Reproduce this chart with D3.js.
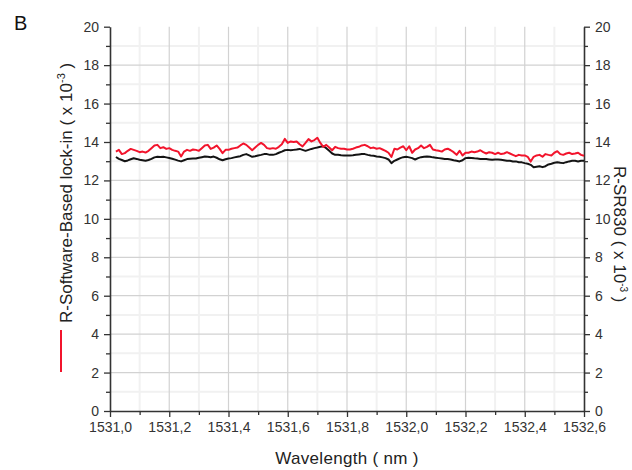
<!DOCTYPE html>
<html>
<head>
<meta charset="utf-8">
<script src="https://cdn.jsdelivr.net/npm/d3@7"></script>
<style>
  html, body { margin: 0; padding: 0; background: #fff; }
  svg { display: block; font-family: "Liberation Sans", Arial, sans-serif; }
</style>
</head>
<body>
<svg id="chart" width="632" height="470"></svg>
<script>
// Wavelength sampling: 1531.02 nm to 1532.60 nm in 0.01 nm steps
const wlStart = 1531.02;
const wlStep = 0.01;

// R measured with the software-based lock-in (x 10^-3)
const softwareLockIn = [
  13.50, 13.59, 13.37, 13.42, 13.54, 13.64, 13.59, 13.54, 13.47, 13.50,
  13.45, 13.54, 13.68, 13.82, 13.85, 13.68, 13.73, 13.64, 13.68, 13.59,
  13.54, 13.50, 13.25, 13.50, 13.59, 13.54, 13.61, 13.59, 13.54, 13.68,
  13.82, 13.85, 13.64, 13.71, 13.82, 13.64, 13.42, 13.59, 13.59, 13.65,
  13.68, 13.71, 13.82, 13.92, 13.85, 13.71, 13.57, 13.71, 13.85, 13.95,
  13.85, 13.68, 13.65, 13.68, 13.65, 13.75, 13.88, 14.16, 13.95, 14.03,
  14.00, 14.03, 13.88, 13.77, 13.95, 14.15, 14.03, 14.10, 14.22, 13.95,
  13.75, 13.85, 13.71, 13.57, 13.75, 13.68, 13.65, 13.65, 13.61, 13.61,
  13.65, 13.71, 13.75, 13.82, 13.85, 13.78, 13.68, 13.71, 13.65, 13.68,
  13.61, 13.54, 13.44, 13.22, 13.65, 13.61, 13.71, 13.78, 13.57, 13.78,
  13.44, 13.61, 13.68, 13.82, 13.68, 13.75, 13.85, 13.61, 13.57, 13.54,
  13.50, 13.61, 13.65, 13.57, 13.47, 13.33, 13.54, 13.30, 13.44, 13.44,
  13.50, 13.47, 13.50, 13.57, 13.47, 13.40, 13.47, 13.44, 13.37, 13.44,
  13.37, 13.40, 13.47, 13.40, 13.33, 13.26, 13.33, 13.30, 13.30, 13.23,
  12.98, 13.23, 13.30, 13.33, 13.23, 13.37, 13.33, 13.30, 13.44, 13.52,
  13.37, 13.33, 13.40, 13.44, 13.37, 13.40, 13.44, 13.33, 13.28
];

// R measured with the SR830 lock-in amplifier (x 10^-3)
const sr830 = [
  13.22, 13.12, 13.06, 13.00, 13.04, 13.10, 13.15, 13.12, 13.08, 13.05,
  13.02, 13.06, 13.12, 13.20, 13.23, 13.22, 13.23, 13.20, 13.17, 13.13,
  13.08, 13.03, 12.99, 13.05, 13.11, 13.13, 13.14, 13.14, 13.18, 13.21,
  13.24, 13.23, 13.21, 13.24, 13.18, 13.10, 13.05, 13.10, 13.14, 13.16,
  13.20, 13.23, 13.26, 13.33, 13.37, 13.30, 13.23, 13.26, 13.30, 13.33,
  13.37, 13.37, 13.33, 13.33, 13.37, 13.44, 13.50, 13.57, 13.59, 13.57,
  13.59, 13.61, 13.64, 13.59, 13.54, 13.59, 13.64, 13.68, 13.71, 13.75,
  13.78, 13.68, 13.54, 13.40, 13.33, 13.33, 13.31, 13.30, 13.30, 13.30,
  13.31, 13.33, 13.35, 13.37, 13.37, 13.33, 13.30, 13.28, 13.25, 13.23,
  13.20, 13.16, 13.09, 12.90, 13.02, 13.09, 13.16, 13.21, 13.23, 13.20,
  13.16, 13.09, 13.16, 13.21, 13.23, 13.25, 13.23, 13.20, 13.18, 13.16,
  13.14, 13.12, 13.11, 13.09, 13.05, 13.02, 12.99, 13.05, 13.16, 13.18,
  13.17, 13.15, 13.14, 13.12, 13.12, 13.11, 13.09, 13.07, 13.09, 13.09,
  13.07, 13.05, 13.02, 13.02, 12.99, 12.99, 12.95, 12.94, 12.90, 12.87,
  12.81, 12.68, 12.71, 12.74, 12.69, 12.74, 12.83, 12.87, 12.92, 12.95,
  12.92, 12.90, 12.95, 12.99, 13.02, 13.02, 12.99, 13.02, 13.02
];

const xTickValues = [1531.0, 1531.2, 1531.4, 1531.6, 1531.8, 1532.0, 1532.2, 1532.4, 1532.6];
const yTickValues = [0, 2, 4, 6, 8, 10, 12, 14, 16, 18, 20];
const panelLabel = "B";
const xTitle = "Wavelength ( nm )";
const leftTitle = "R-Software-Based lock-in ( x 10";
const rightTitle = "R-SR830 ( x 10";
const exponent = "-3";

const svg = d3.select("#chart");
const plot = { left: 110, right: 584, top: 26.7, bottom: 411 };

const x = d3.scaleLinear().domain([1531.0, 1532.6]).range([plot.left, plot.right]);
const y = d3.scaleLinear().domain([0, 20]).range([plot.bottom, plot.top]);

const fmt = d => d3.format(".1f")(d).replace(".", ",");

// Minor grid (faint) at half steps
const minorX = d3.range(1531.1, 1532.6, 0.2);
const minorY = d3.range(1, 20, 2);
const grid = svg.append("g");
grid.selectAll("line.mx").data(minorX).join("line")
  .attr("x1", d => x(d)).attr("x2", d => x(d))
  .attr("y1", y(0)).attr("y2", y(20))
  .attr("stroke", "#f1f1f1").attr("stroke-width", 2);
grid.selectAll("line.my").data(minorY).join("line")
  .attr("x1", plot.left).attr("x2", plot.right)
  .attr("y1", d => y(d)).attr("y2", d => y(d))
  .attr("stroke", "#f1f1f1").attr("stroke-width", 2);

// Major grid
grid.selectAll("line.gx").data(xTickValues.slice(1, -1)).join("line")
  .attr("x1", d => x(d)).attr("x2", d => x(d))
  .attr("y1", y(0)).attr("y2", y(20))
  .attr("stroke", "#d2d2d2").attr("stroke-width", 1.2);
grid.selectAll("line.gy").data(yTickValues.slice(1, -1)).join("line")
  .attr("x1", plot.left).attr("x2", plot.right)
  .attr("y1", d => y(d)).attr("y2", d => y(d))
  .attr("stroke", "#d2d2d2").attr("stroke-width", 1.2);

// Axes
const axisColor = "#333";
function styleAxis(g) {
  g.select(".domain").attr("stroke", axisColor).attr("stroke-width", 1.6);
  g.selectAll(".tick line").attr("stroke", axisColor).attr("stroke-width", 1.3);
  g.selectAll(".tick text").attr("fill", "#333").attr("font-size", "14px")
    .attr("font-family", "'Liberation Sans', Arial, sans-serif");
}

// Minor ticks
const xMinor = d3.range(1531.1, 1532.6, 0.2);
const yMinor = d3.range(1, 20, 2);

svg.append("g").attr("transform", `translate(0,${plot.bottom})`)
  .call(d3.axisBottom(x).tickValues(xMinor).tickSize(4).tickFormat(""))
  .call(g => { g.select(".domain").remove(); g.selectAll("line").attr("stroke", axisColor).attr("stroke-width", 1.3); });
svg.append("g").attr("transform", `translate(${plot.left},0)`)
  .call(d3.axisLeft(y).tickValues(yMinor).tickSize(4).tickFormat(""))
  .call(g => { g.select(".domain").remove(); g.selectAll("line").attr("stroke", axisColor).attr("stroke-width", 1.3); });
svg.append("g").attr("transform", `translate(${plot.right},0)`)
  .call(d3.axisRight(y).tickValues(yMinor).tickSize(4).tickFormat(""))
  .call(g => { g.select(".domain").remove(); g.selectAll("line").attr("stroke", axisColor).attr("stroke-width", 1.3); });

svg.append("g").attr("transform", `translate(0,${plot.bottom})`)
  .call(d3.axisBottom(x).tickValues(xTickValues).tickSize(6).tickSizeOuter(0).tickPadding(5).tickFormat(fmt))
  .call(styleAxis);
svg.append("g").attr("transform", `translate(${plot.left},0)`)
  .call(d3.axisLeft(y).tickValues(yTickValues).tickSize(6).tickSizeOuter(0).tickPadding(5).tickFormat(d3.format("d")))
  .call(styleAxis);
svg.append("g").attr("transform", `translate(${plot.right},0)`)
  .call(d3.axisRight(y).tickValues(yTickValues).tickSize(6).tickSizeOuter(0).tickPadding(5).tickFormat(d3.format("d")))
  .call(styleAxis);

// Data lines
const wl = i => wlStart + i * wlStep;
const line = d3.line().x((d, i) => x(wl(i))).y(d => y(d));

svg.append("path").datum(sr830)
  .attr("fill", "none").attr("stroke", "#141414").attr("stroke-width", 2)
  .attr("stroke-linejoin", "round").attr("d", line);
svg.append("path").datum(softwareLockIn)
  .attr("fill", "none").attr("stroke", "#f2142c").attr("stroke-width", 2)
  .attr("stroke-linejoin", "round").attr("d", line);

// Panel label
svg.append("text").attr("x", 14).attr("y", 29.5)
  .attr("font-size", "20px").attr("fill", "#111").text(panelLabel);

// X title
svg.append("text").attr("x", 347).attr("y", 464)
  .attr("text-anchor", "middle").attr("font-size", "17px")
  .attr("letter-spacing", "0.3px").attr("fill", "#222").text(xTitle);

// Left title with legend swatch
const lt = svg.append("text")
  .attr("transform", "translate(72,323) rotate(-90)")
  .attr("font-size", "17px").attr("fill", "#222");
lt.append("tspan").text(leftTitle);
lt.append("tspan").attr("dy", -7).attr("font-size", "11px").text(exponent);
lt.append("tspan").attr("dy", 7).text(" )");

svg.append("line").attr("x1", 61).attr("x2", 61).attr("y1", 330).attr("y2", 372)
  .attr("stroke", "#f2142c").attr("stroke-width", 2);

// Right title
const rt = svg.append("text")
  .attr("transform", "translate(614,166) rotate(90)")
  .attr("font-size", "17px").attr("fill", "#222");
rt.append("tspan").text(rightTitle);
rt.append("tspan").attr("dy", -6).attr("font-size", "10px").text(exponent);
rt.append("tspan").attr("dy", 6).text(" )");
</script>
</body>
</html>
